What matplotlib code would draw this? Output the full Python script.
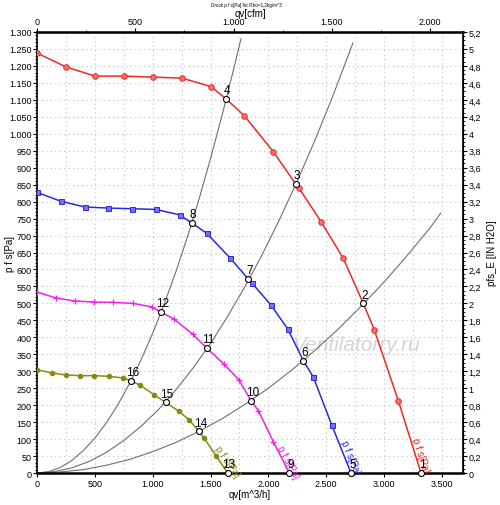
import matplotlib
matplotlib.use("Agg")
import matplotlib.pyplot as plt
from matplotlib.ticker import MultipleLocator, FixedLocator, FuncFormatter

plt.rcParams['font.family'] = ['Liberation Sans', 'DejaVu Sans']

# ---- data ----
red_q = [0, 251, 501, 752, 1003, 1253, 1504, 1634, 1792, 2043, 2236, 2264, 2455, 2647, 2820, 2915, 3123, 3319]
red_p = [1238, 1197, 1170, 1170, 1167, 1164, 1139, 1103, 1053, 947, 852, 840, 741, 633, 500, 422, 213, 0]
red_mq = [0, 251, 501, 752, 1003, 1253, 1504, 1792, 2043, 2264, 2455, 2647, 2915, 3123]
red_mp = [1238, 1197, 1170, 1170, 1167, 1164, 1139, 1053, 947, 840, 741, 633, 422, 213]

blue_q = [3, 207, 415, 617, 818, 1026, 1233, 1337, 1466, 1671, 1826, 1855, 2020, 2167, 2302, 2388, 2547, 2714]
blue_p = [827, 801, 784, 781, 779, 777, 761, 737, 707, 633, 572, 561, 496, 425, 331, 283, 142, 0]
blue_mq = [3, 207, 415, 617, 818, 1026, 1233, 1466, 1671, 1855, 2020, 2167, 2388, 2547]
blue_mp = [827, 801, 784, 781, 779, 777, 761, 707, 633, 561, 496, 425, 283, 142]

mag_q = [3, 164, 328, 493, 660, 827, 991, 1072, 1184, 1346, 1469, 1619, 1746, 1850, 1913, 2043, 2181]
mag_p = [533, 516, 507, 504, 503, 500, 490, 474, 454, 409, 368, 320, 274, 213, 184, 92, 0]
mag_mq = [3, 164, 328, 493, 660, 827, 991, 1184, 1346, 1619, 1746, 1913, 2043]
mag_mp = [533, 516, 507, 504, 503, 500, 490, 454, 409, 320, 274, 184, 92]

oli_q = [3, 127, 248, 372, 495, 622, 746, 812, 890, 1011, 1112, 1227, 1316, 1400, 1446, 1547, 1648]
oli_p = [304, 295, 289, 287, 287, 285, 280, 272, 259, 231, 208, 182, 156, 123, 102, 51, 0]
oli_mq = [3, 127, 248, 372, 495, 622, 746, 890, 1011, 1227, 1316, 1446, 1547]
oli_mp = [304, 295, 289, 287, 287, 285, 280, 259, 231, 182, 156, 102, 51]

# system curves
sysA_q = [0, 100, 200, 300, 400, 500, 600, 700, 800, 900, 1000, 1100, 1200, 1300, 1400, 1500, 1600, 1700, 1763]
sysA_p = [0, 4, 16, 37, 66, 103, 148, 202, 264, 334, 412, 499, 593, 696, 807, 927, 1055, 1191, 1280]
sysB_q = [0, 150, 300, 450, 600, 750, 900, 1050, 1200, 1350, 1500, 1650, 1800, 1950, 2100, 2250, 2400, 2550, 2731]
sysB_p = [0, 4, 15, 34, 61, 96, 138, 187, 245, 310, 382, 463, 551, 646, 750, 861, 979, 1105, 1268]
sysC_q = [0, 200, 400, 600, 800, 1000, 1200, 1400, 1600, 1800, 2000, 2200, 2400, 2600, 2800, 3000, 3200, 3400, 3489]
sysC_p = [0, 3, 10, 23, 40, 63, 90, 123, 160, 203, 250, 303, 361, 423, 491, 563, 641, 724, 766]

# operating points
op_labels = ['1', '2', '3', '4', '5', '6', '7', '8', '9', '10', '11', '12', '13', '14', '15', '16']
op_q = [3319, 2820, 2236, 1634, 2714, 2302, 1826, 1337, 2181, 1850, 1469, 1072, 1648, 1400, 1112, 812]
op_p = [0, 500, 852, 1103, 0, 331, 572, 737, 0, 213, 368, 474, 0, 123, 208, 272]

curve_label = 'p f s[Pa]'
label_q = [3310, 2705, 2170, 1642]
label_p = [53, 47, 35, 35]
label_rot = [-72, -68, -62, -56]

top_ticks = [0, 500, 1000, 1500, 2000]
top_minor = [250, 750, 1250, 1750, 2000, 2250]

CFM = 1.699
PA_PER_IN = 250.0

fig = plt.figure(figsize=(5.0, 5.06), dpi=100)
ax = fig.add_axes([0.074, 0.0632, 0.852, 0.8716])
ax.set_xlim(0, 3682)
ax.set_ylim(0, 1300)

for q, p in [(sysA_q, sysA_p), (sysB_q, sysB_p), (sysC_q, sysC_p)]:
    ax.plot(q, p, color='#707070', lw=0.8, zorder=2)

red = '#ee2a24'
blue = '#2a2ae0'
mag = '#f020f0'
oli = '#8a8a10'
ax.plot(red_q, red_p, color=red, lw=1.1, zorder=3)
ax.plot(red_mq, red_mp, ls='none', marker='o', ms=4, mfc='#f07070', mec=red, mew=0.7, zorder=4)
ax.plot(blue_q, blue_p, color=blue, lw=1.1, zorder=3)
ax.plot(blue_mq, blue_mp, ls='none', marker='s', ms=3.6, mfc='#7070f0', mec=blue, mew=0.7, zorder=4)
ax.plot(mag_q, mag_p, color=mag, lw=1.1, zorder=3)
ax.plot(mag_mq, mag_mp, ls='none', marker='+', ms=4.5, mec=mag, mew=0.9, zorder=4)
ax.plot(oli_q, oli_p, color=oli, lw=1.1, zorder=3)
ax.plot(oli_mq, oli_mp, ls='none', marker='o', ms=3, mfc=oli, mec=oli, zorder=4)

for c, q, p, r in zip([red, blue, mag, oli], label_q, label_p, label_rot):
    ax.text(q, p, curve_label, color=c, fontsize=7, rotation=r, ha='center', va='center',
            rotation_mode='anchor', zorder=5)

ax.plot(op_q, op_p, ls='none', marker='o', ms=4.3, mfc='white', mec='black', mew=0.8, zorder=6, clip_on=False)
for t, q, p in zip(op_labels, op_q, op_p):
    ax.annotate(t, (q, p), xytext=(1, 2), textcoords='offset points', ha='center', va='bottom',
                fontsize=8.5, color='black', zorder=7)

ax.text(2757, 380, 'Ventilatorry.ru', fontsize=15, style='italic', color='#d4d4d4',
        ha='center', va='center', zorder=1)

# axes / ticks
ax.xaxis.set_major_locator(MultipleLocator(500))
ax.xaxis.set_minor_locator(MultipleLocator(250))
ax.yaxis.set_major_locator(MultipleLocator(50))
ax.yaxis.set_minor_locator(MultipleLocator(10))
fmt_thousand = FuncFormatter(lambda v, pos: f"{int(round(v)):,}".replace(',', '.'))
ax.xaxis.set_major_formatter(fmt_thousand)
ax.yaxis.set_major_formatter(fmt_thousand)
ax.grid(which='major', axis='y', color='#c0c0c0', ls=(0, (1, 3)), lw=0.8)
ax.grid(which='both', axis='x', color='#c0c0c0', ls=(0, (1, 3)), lw=0.8)
ax.tick_params(axis='both', which='major', labelsize=6.5, length=3, width=0.8, pad=1)
ax.tick_params(axis='y', which='minor', length=1.5, width=0.6)
ax.tick_params(axis='x', which='minor', length=0)
for s in ax.spines.values():
    s.set_linewidth(1.2)
ax.spines['bottom'].set_linewidth(1.8)
ax.spines['top'].set_linewidth(1.8)

ax.set_xlabel('qv[m^3/h]', fontsize=7, labelpad=1)
ax.set_ylabel('p f s[Pa]', fontsize=7)
ax.yaxis.set_label_coords(-0.052, 0.5)

top = ax.secondary_xaxis('top', functions=(lambda x: x / CFM, lambda x: x * CFM))
top.xaxis.set_major_locator(FixedLocator(top_ticks))
top.xaxis.set_minor_locator(FixedLocator(top_minor))
top.xaxis.set_major_formatter(fmt_thousand)
top.tick_params(which='major', labelsize=6.5, length=3, width=0.8, pad=1)
top.tick_params(which='minor', length=1.5, width=0.6)
top.set_xlabel('qv[cfm]', fontsize=7, labelpad=1)

right = ax.secondary_yaxis('right', functions=(lambda y: y / PA_PER_IN, lambda y: y * PA_PER_IN))
right.yaxis.set_major_locator(MultipleLocator(0.2))
right.yaxis.set_minor_locator(MultipleLocator(0.05))

def rfmt(v, pos):
    if abs(v - round(v)) < 1e-6:
        return str(int(round(v)))
    return f"{v:.1f}".replace('.', ',')

right.yaxis.set_major_formatter(FuncFormatter(rfmt))
right.tick_params(which='major', labelsize=6.5, length=3, width=0.8, pad=1)
right.tick_params(which='minor', length=1.5, width=0.6)
right.set_ylabel('pfs_E [IN H2O]', fontsize=7, labelpad=4)

fig.text(0.492, 0.989, 'Druck p f s[Pa] für Rho=1,2kg/m^3', fontsize=3.3, ha='center', va='center')

fig.savefig('out.png', dpi=100)
